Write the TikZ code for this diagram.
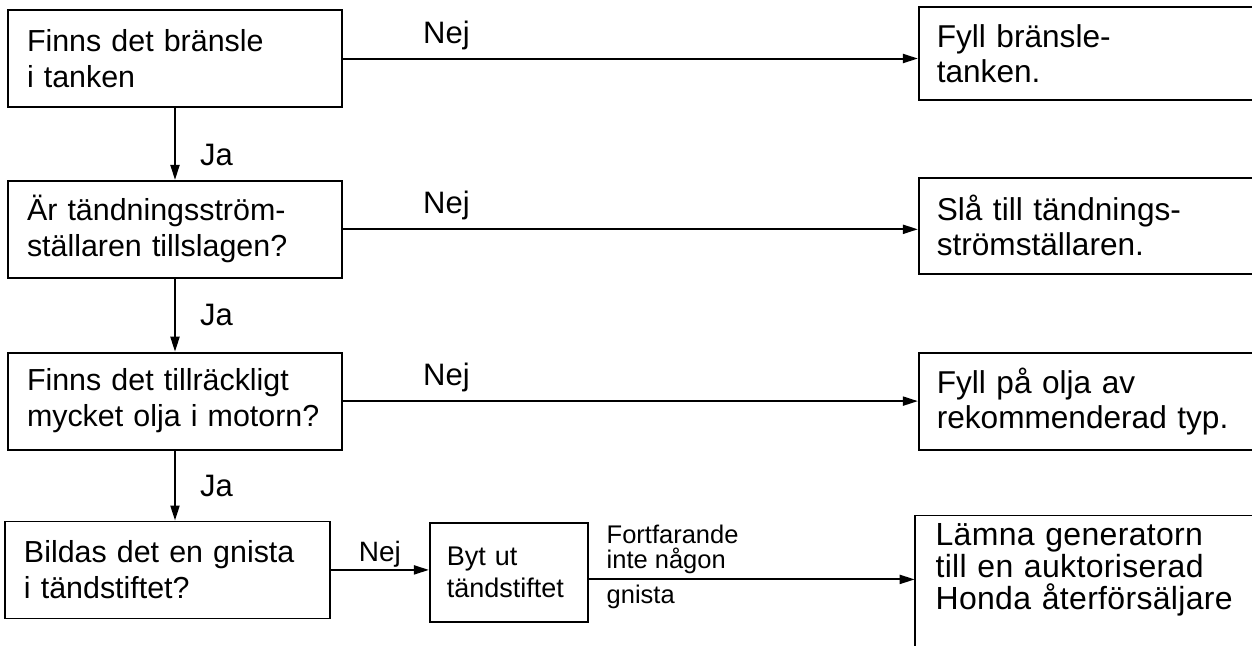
\documentclass[tikz,border=0pt]{standalone}
\usepackage{fontspec}
\setmainfont{Liberation Sans}
\usetikzlibrary{positioning, arrows.meta}

\begin{document}
\begin{tikzpicture}[
    node distance=36pt and 287.5pt,
    box/.style={draw, line width=0.9pt, minimum width=167pt, minimum height=48.5pt,
                text width=148pt, inner xsep=9.5pt, align=left,
                font=\fontsize{15.2}{18}\selectfont},
    res/.style={box, minimum width=200pt, text width=182pt, inner xsep=9pt,
                font=\fontsize{15.8}{17.5}\selectfont},
    arr/.style={-{Triangle[length=7.5pt,width=4.5pt]}, line width=1pt},
    lbl/.style={font=\fontsize{15.5}{18}\selectfont, inner sep=4pt},
    sml/.style={font=\fontsize{12.75}{12.5}\selectfont, inner sep=2.5pt, align=left}
]
\useasboundingbox (0,0) rectangle (626pt,-322.5pt);
\clip (0,0) rectangle (626pt,-322.5pt);

\node[box] (fuel) at (87.5pt,-29.25pt) {Finns det bränsle\\i tanken};
\node[box, below=of fuel] (ign) {Är tändningsström-\\ställaren tillslagen?};
\node[box, below=36.5pt of ign] (oil) {Finns det tillräckligt\\mycket olja i motorn?};
\node[box, below=35pt of oil, xshift=-3.75pt, minimum width=162.5pt, text width=143.5pt] (spark)
    {Bildas det en gnista\\i tändstiftet?};

\node[res, right=of fuel, yshift=2.5pt, minimum height=46.5pt] (fill) {Fyll bränsle-\\tanken.};
\node[res, right=of ign, yshift=1.75pt, minimum height=48pt] (turn) {Slå till tändnings-\\strömställaren.};
\node[res, right=of oil] (addoil) {Fyll på olja av\\rekommenderad typ.};

\node[box, right=49pt of spark, yshift=-1.25pt, minimum width=79pt, minimum height=49.5pt,
      text width=62pt, inner xsep=8.5pt, font=\fontsize{13.5}{16}\selectfont] (plug) {Byt ut\\tändstiftet};
\node[res, draw=none, right=163pt of plug, yshift=1.5pt, inner xsep=10pt,
      font=\fontsize{16}{16}\selectfont\addfontfeature{LetterSpace=1}] (dealer)
    {Lämna generatorn\\till en auktoriserad\\Honda återförsäljare};
\draw[line width=0.9pt] ([yshift=-20pt]dealer.south west) -- (dealer.north west) -- (dealer.north east);

\draw[arr] (fuel) -- node[lbl, above, pos=0.18]{Nej} (fuel.east -| fill.west);
\draw[arr] (ign) -- node[lbl, above, pos=0.18]{Nej} (ign.east -| turn.west);
\draw[arr] (oil) -- node[lbl, above, pos=0.18]{Nej} (oil.east -| addoil.west);
\draw[arr] (fuel) -- node[lbl, right, pos=0.65, xshift=8pt]{Ja} (ign);
\draw[arr] (ign) -- node[lbl, right, xshift=8pt]{Ja} (oil);
\draw[arr] (oil) -- node[lbl, right, xshift=8pt]{Ja} (oil |- spark.north);
\draw[arr] (spark) -- node[lbl, above, inner sep=1pt, font=\fontsize{14}{16}\selectfont]{Nej} (spark.east -| plug.west);
\draw[arr] ([yshift=-3.5pt]plug.east) --
    node[sml, at start, anchor=south west, xshift=6pt]{Fortfarande\\inte någon}
    node[sml, at start, anchor=north west, xshift=6pt]{gnista}
    ([yshift=-3.5pt]plug.east -| dealer.west);
\end{tikzpicture}
\end{document}
